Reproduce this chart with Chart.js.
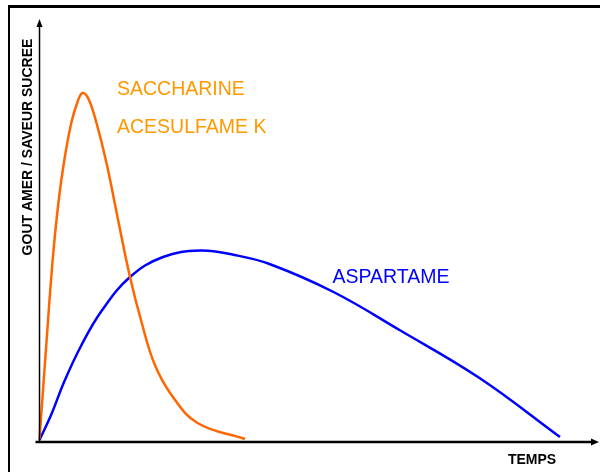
<!DOCTYPE html>
<html>
<head>
<meta charset="utf-8">
<script src="https://cdn.jsdelivr.net/npm/chart.js@4"></script>
<style>
  html, body { margin: 0; padding: 0; background: #fff; }
  #wrap { position: relative; width: 600px; height: 472px; overflow: hidden; }
  #frame {
    position: absolute; left: 8px; top: 5px; width: 640px; height: 520px;
    border-left: 2px solid #000; border-top: 3px solid #000;
  }
  canvas { position: absolute; left: 0; top: 0; }
</style>
</head>
<body>
<div id="wrap">
  <div id="frame"></div>
  <canvas id="chart" width="600" height="472"></canvas>
</div>
<script>
// valeurs (unités arbitraires)
const sucrantOrange = [
  [0, 3], [7, 100], [13, 180], [19, 240], [25, 283], [32, 320], [38, 340],
  [43, 349], [49, 343], [57, 319], [67, 279], [78, 225], [90.5, 165],
  [102, 120], [115, 78], [132, 47], [158, 19], [205.5, 3]
];
const aspartame = [
  [0, 2], [12, 28], [25, 61], [42, 97], [62, 131], [90.5, 165],
  [123.5, 185], [160.5, 191.5], [195, 187], [230, 178], [294, 150],
  [360, 112], [440, 64], [520.5, 5]
];
const etiquettes = [
  { text: 'SACCHARINE', x: 77.5, y: 347, color: '#FF9900' },
  { text: 'ACESULFAME K', x: 77.5, y: 309, color: '#FF9900' },
  { text: 'ASPARTAME', x: 293, y: 159, color: '#0000FF' }
];
const titreY = 'GOUT AMER / SAVEUR SUCREE';
const titreX = 'TEMPS';

const toPts = arr => arr.map(([x, y]) => ({ x, y }));

// axes avec flèches + textes
const axesPlugin = {
  id: 'axesFleches',
  afterDatasetsDraw(chart) {
    const { ctx, chartArea: a, scales } = chart;
    ctx.save();
    ctx.fillStyle = '#000';
    ctx.strokeStyle = '#000';

    // axe Y
    ctx.lineWidth = 1.5;
    ctx.beginPath();
    ctx.moveTo(a.left, a.bottom);
    ctx.lineTo(a.left, a.top + 4);
    ctx.stroke();
    ctx.beginPath();
    ctx.moveTo(a.left, a.top);
    ctx.lineTo(a.left - 3, a.top + 8);
    ctx.lineTo(a.left + 3, a.top + 8);
    ctx.closePath();
    ctx.fill();

    // axe X
    ctx.lineWidth = 2.5;
    ctx.beginPath();
    ctx.moveTo(a.left - 4, a.bottom);
    ctx.lineTo(a.right - 4, a.bottom);
    ctx.stroke();
    ctx.beginPath();
    ctx.moveTo(a.right + 1, a.bottom);
    ctx.lineTo(a.right - 7, a.bottom - 3.5);
    ctx.lineTo(a.right - 7, a.bottom + 3.5);
    ctx.closePath();
    ctx.fill();

    // titres
    ctx.font = 'bold 14px "Liberation Sans", Arial, sans-serif';
    ctx.textAlign = 'center';
    ctx.textBaseline = 'middle';
    ctx.fillText(titreX, 532, a.bottom + 18);
    ctx.translate(28, 147);
    ctx.rotate(-Math.PI / 2);
    ctx.fillText(titreY, 0, 0);
    ctx.restore();

    ctx.save();
    ctx.font = '19.5px "Liberation Sans", Arial, sans-serif';
    ctx.textAlign = 'left';
    ctx.textBaseline = 'alphabetic';
    etiquettes.forEach(e => {
      ctx.fillStyle = e.color;
      ctx.fillText(e.text, scales.x.getPixelForValue(e.x), scales.y.getPixelForValue(e.y));
    });
    ctx.restore();
  }
};

new Chart(document.getElementById('chart'), {
  type: 'line',
  data: {
    datasets: [
      {
        label: 'Saccharine / Acesulfame K',
        data: toPts(sucrantOrange),
        borderColor: '#FF6600',
        borderWidth: 2.5,
        pointRadius: 0,
        tension: 0.4,
        clip: false
      },
      {
        label: 'Aspartame',
        data: toPts(aspartame),
        borderColor: '#0000FF',
        borderWidth: 2.5,
        pointRadius: 0,
        tension: 0.4,
        clip: false
      }
    ]
  },
  options: {
    responsive: false,
    animation: false,
    layout: { padding: { left: 39.5, right: 2, top: 19, bottom: 30 } },
    scales: {
      x: { type: 'linear', min: 0, max: 558.5, display: false },
      y: { min: 0, max: 423, display: false }
    },
    plugins: {
      legend: { display: false },
      tooltip: { enabled: false }
    }
  },
  plugins: [axesPlugin]
});
</script>
</body>
</html>
